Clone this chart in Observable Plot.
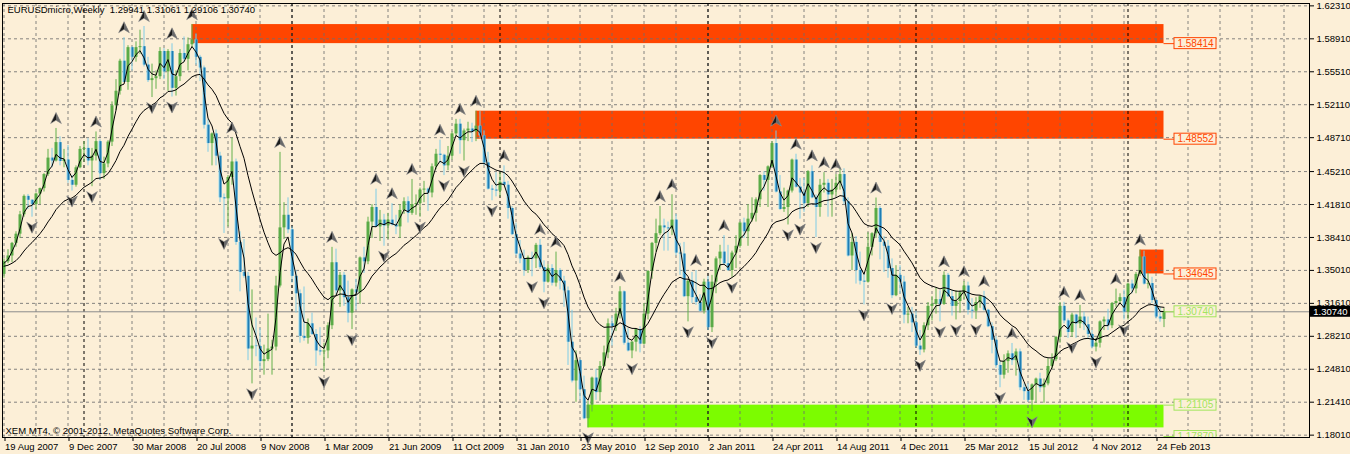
<!DOCTYPE html>
<html><head><meta charset="utf-8">
<script src="https://cdn.jsdelivr.net/npm/d3@7"></script>
<script src="https://cdn.jsdelivr.net/npm/@observablehq/plot@0.6"></script>
<style>
html,body{margin:0;padding:0;background:#FCEFD7;}
#chart{width:1350px;height:454px;overflow:hidden;}
</style></head><body><div id="chart"></div>
<script>
// ---- Weekly EURUSD bars, first bar = week of 19 Aug 2007 ----
const opens = [
1.3460,1.3590,1.3650,1.3780,1.3875,1.4075,1.4265,1.4225,1.4180,1.4290,
1.4345,1.4490,1.4660,1.4630,1.4820,1.4625,1.4640,1.4430,1.4380,1.4560,
1.4750,1.4760,1.4630,1.4680,1.4830,1.4500,1.4600,1.4825,1.5200,1.5350,
1.5660,1.5440,1.5800,1.5700,1.5800,1.5810,1.5620,1.5460,1.5480,1.5500,
1.5760,1.5550,1.5760,1.5380,1.5500,1.5740,1.5680,1.5830,1.5880,1.5700,
1.5590,1.5000,1.4810,1.4910,1.4680,1.4250,1.4240,1.4460,1.4620,1.3790,
1.3480,1.3440,1.2690,1.2720,1.2715,1.2560,1.2580,1.2690,1.2710,1.3340,
1.3940,1.4070,1.3920,1.3440,1.3260,1.2820,1.2800,1.2950,1.2840,1.2670,
1.2660,1.2670,1.2930,1.3580,1.3290,1.3450,1.3220,1.3060,1.3300,1.3270,
1.3630,1.3590,1.4000,1.4150,1.3950,1.4020,1.3960,1.4020,1.3970,1.3950,
1.4120,1.4210,1.4090,1.4180,1.4190,1.4330,1.4340,1.4300,1.4570,1.4700,
1.4690,1.4580,1.4680,1.4910,1.5010,1.4840,1.4940,1.4960,1.4930,1.4990,
1.4890,1.4610,1.4340,1.4330,1.4320,1.4410,1.4380,1.4140,1.3870,1.3670,
1.3620,1.3500,1.3630,1.3620,1.3760,1.3530,1.3380,1.3520,1.3370,1.3500,
1.3390,1.3290,1.2760,1.2360,1.2570,1.2270,1.1970,1.2110,1.2390,1.2240,
1.2510,1.2650,1.2950,1.2920,1.3050,1.3280,1.2750,1.2670,1.2760,1.2890,
1.2740,1.3050,1.3490,1.3780,1.3880,1.3960,1.3940,1.3930,1.4020,1.3680,
1.3670,1.3230,1.3390,1.3220,1.3170,1.3080,1.3380,1.2910,1.3380,1.3620,
1.3690,1.3570,1.3500,1.3680,1.3750,1.3990,1.3900,1.4030,1.4090,1.4230,
1.4480,1.4430,1.4570,1.4810,1.4310,1.4130,1.4150,1.4320,1.4640,1.4360,
1.4300,1.4190,1.4520,1.4250,1.4150,1.4380,1.4400,1.4280,1.4330,1.4400,
1.4490,1.4210,1.3650,1.3790,1.3500,1.3390,1.3380,1.3740,1.3880,1.4140,
1.3790,1.3750,1.3520,1.3240,1.3450,1.3380,1.3040,1.3050,1.2960,1.2720,
1.2680,1.2930,1.3130,1.3150,1.3200,1.3150,1.3450,1.3230,1.3130,1.3180,
1.3270,1.3340,1.3090,1.3080,1.3170,1.3230,1.3090,1.2920,1.2780,1.2520,
1.2420,1.2560,1.2640,1.2570,1.2660,1.2290,1.2250,1.2160,1.2320,1.2380,
1.2290,1.2330,1.2510,1.2580,1.2810,1.3130,1.2980,1.2860,1.3040,1.2950,
1.3020,1.2940,1.2840,1.2710,1.2750,1.2970,1.2990,1.2930,1.3160,1.3180,
1.3220,1.3070,1.3360,1.3310,1.3460,1.3640,1.3360,1.3365,1.3190,1.3020,
1.29941];
const highs = [
1.3620,1.3715,1.3790,1.3900,1.4110,1.4280,1.4285,1.4230,1.4300,1.4350,
1.4500,1.4750,1.4760,1.4966,1.4880,1.4750,1.4790,1.4480,1.4580,1.4780,
1.4830,1.4860,1.4760,1.4930,1.4850,1.4670,1.4840,1.5240,1.5470,1.5680,
1.5903,1.5820,1.5810,1.5860,1.5980,1.6018,1.5700,1.5630,1.5560,1.5800,
1.5790,1.5780,1.5840,1.5560,1.5780,1.5910,1.5900,1.6038,1.5940,1.5720,
1.5610,1.5060,1.4920,1.4950,1.4720,1.4290,1.4480,1.4867,1.4650,1.3900,
1.3820,1.3480,1.3300,1.3010,1.2900,1.2730,1.3050,1.2780,1.3440,1.4719,
1.4200,1.4250,1.3950,1.3500,1.3300,1.3330,1.3000,1.3060,1.2890,1.2910,
1.2750,1.2960,1.3739,1.3720,1.3480,1.3480,1.3390,1.3310,1.3410,1.3640,
1.3740,1.4050,1.4180,1.4339,1.4120,1.4080,1.4090,1.4190,1.4070,1.4180,
1.4250,1.4260,1.4440,1.4280,1.4350,1.4420,1.4350,1.4600,1.4750,1.4845,
1.4700,1.4780,1.4930,1.5060,1.5060,1.4960,1.5030,1.5020,1.5144,1.5140,
1.4940,1.4720,1.4380,1.4510,1.4510,1.4580,1.4420,1.4160,1.3990,1.3810,
1.3710,1.3650,1.3690,1.3780,1.3820,1.3600,1.3560,1.3560,1.3690,1.3520,
1.3440,1.3330,1.3090,1.2670,1.2580,1.2410,1.2150,1.2400,1.2480,1.2560,
1.2720,1.3000,1.3020,1.3110,1.3333,1.3290,1.2900,1.2770,1.2900,1.2920,
1.3160,1.3500,1.3790,1.4030,1.4160,1.4030,1.4000,1.4282,1.4080,1.3780,
1.3790,1.3400,1.3480,1.3500,1.3250,1.3410,1.3440,1.3450,1.3640,1.3760,
1.3860,1.3760,1.3700,1.3860,1.4000,1.4040,1.4180,1.4250,1.4250,1.4490,
1.4520,1.4580,1.4830,1.4940,1.4480,1.4350,1.4330,1.4650,1.4700,1.4450,
1.4450,1.4530,1.4580,1.4280,1.4440,1.4510,1.4440,1.4440,1.4490,1.4550,
1.4550,1.4250,1.3880,1.3850,1.3690,1.3460,1.3890,1.3890,1.4248,1.4160,
1.3850,1.3810,1.3620,1.3550,1.3550,1.3440,1.3120,1.3120,1.3080,1.2880,
1.2960,1.3170,1.3230,1.3320,1.3290,1.3486,1.3470,1.3290,1.3290,1.3290,
1.3385,1.3380,1.3210,1.3220,1.3240,1.3285,1.3100,1.2960,1.2820,1.2560,
1.2630,1.2670,1.2747,1.2690,1.2690,1.2330,1.2330,1.2330,1.2390,1.2440,
1.2380,1.2590,1.2640,1.2820,1.3170,1.3172,1.3000,1.3060,1.3050,1.3140,
1.3070,1.3020,1.2880,1.2800,1.2980,1.3020,1.3100,1.3170,1.3308,1.3260,
1.3300,1.3370,1.3400,1.3480,1.3711,1.3700,1.3470,1.3430,1.3200,1.3120,
1.31061];
const lows = [
1.3420,1.3570,1.3580,1.3740,1.3830,1.4050,1.4130,1.4050,1.4130,1.4180,
1.4310,1.4470,1.4560,1.4620,1.4580,1.4560,1.4400,1.4320,1.4360,1.4550,
1.4620,1.4580,1.4365,1.4630,1.4430,1.4440,1.4560,1.4780,1.5150,1.5310,
1.5480,1.5360,1.5560,1.5650,1.5730,1.5600,1.5440,1.5285,1.5370,1.5470,
1.5470,1.5350,1.5290,1.5300,1.5450,1.5650,1.5560,1.5800,1.5620,1.5450,
1.4960,1.4720,1.4580,1.4580,1.4200,1.3882,1.3950,1.4380,1.3760,1.3280,
1.3420,1.2570,1.2330,1.2610,1.2470,1.2420,1.2560,1.2420,1.2670,1.3320,
1.3820,1.3880,1.3370,1.3060,1.2750,1.2770,1.2740,1.2830,1.2510,1.2620,
1.2455,1.2590,1.2890,1.3250,1.3120,1.3130,1.2960,1.2890,1.3090,1.3150,
1.3470,1.3560,1.3830,1.3940,1.3800,1.3750,1.3820,1.3960,1.3870,1.3830,
1.4080,1.3990,1.4070,1.4070,1.4050,1.4200,1.4110,1.4250,1.4540,1.4600,
1.4480,1.4530,1.4640,1.4880,1.4700,1.4630,1.4830,1.4820,1.4830,1.4860,
1.4580,1.4330,1.4220,1.4260,1.4260,1.4370,1.4030,1.3860,1.3650,1.3570,
1.3440,1.3470,1.3435,1.3520,1.3510,1.3270,1.3370,1.3340,1.3330,1.3300,
1.3120,1.2520,1.2340,1.2140,1.2160,1.1960,1.1876,1.2040,1.2160,1.2150,
1.2500,1.2590,1.2720,1.2870,1.3000,1.2730,1.2660,1.2590,1.2660,1.2650,
1.2730,1.2990,1.3410,1.3690,1.3860,1.3700,1.3700,1.3860,1.3650,1.3450,
1.3220,1.2970,1.3160,1.3140,1.3070,1.3050,1.2880,1.2860,1.3260,1.3500,
1.3560,1.3490,1.3430,1.3520,1.3730,1.3830,1.3750,1.4000,1.4000,1.4150,
1.4320,1.4150,1.4560,1.4300,1.4120,1.4100,1.3970,1.4300,1.4350,1.4030,
1.4100,1.4150,1.4240,1.3840,1.4050,1.4300,1.4050,1.4050,1.4270,1.4330,
1.4180,1.3640,1.3500,1.3360,1.3350,1.3145,1.3370,1.3650,1.3830,1.3610,
1.3480,1.3420,1.3210,1.3230,1.3260,1.2950,1.2950,1.2860,1.2700,1.2624,
1.2650,1.2880,1.2980,1.3050,1.2970,1.3140,1.3220,1.3030,1.2990,1.3060,
1.3200,1.3040,1.3000,1.2995,1.3110,1.3080,1.2910,1.2640,1.2490,1.2290,
1.2380,1.2440,1.2520,1.2410,1.2260,1.2160,1.2140,1.2042,1.2130,1.2240,
1.2130,1.2310,1.2480,1.2560,1.2750,1.2950,1.2800,1.2810,1.2800,1.2900,
1.2880,1.2800,1.2690,1.2660,1.2700,1.2880,1.2880,1.2900,1.3120,1.3160,
1.2990,1.2990,1.3260,1.3260,1.3440,1.3350,1.3310,1.3160,1.3000,1.2966,
1.29106];
const closes = [
1.3590,1.3650,1.3780,1.3875,1.4075,1.4265,1.4225,1.4180,1.4290,1.4345,
1.4490,1.4660,1.4630,1.4820,1.4625,1.4640,1.4430,1.4380,1.4560,1.4750,
1.4760,1.4630,1.4680,1.4830,1.4500,1.4600,1.4825,1.5200,1.5350,1.5660,
1.5440,1.5800,1.5700,1.5800,1.5810,1.5620,1.5460,1.5480,1.5500,1.5760,
1.5550,1.5760,1.5380,1.5500,1.5740,1.5680,1.5830,1.5880,1.5700,1.5590,
1.5000,1.4810,1.4910,1.4680,1.4250,1.4240,1.4460,1.4620,1.3790,1.3480,
1.3440,1.2690,1.2720,1.2715,1.2560,1.2580,1.2690,1.2710,1.3340,1.3940,
1.4070,1.3920,1.3440,1.3260,1.2820,1.2800,1.2950,1.2840,1.2670,1.2660,
1.2670,1.2930,1.3580,1.3290,1.3450,1.3220,1.3060,1.3300,1.3270,1.3630,
1.3590,1.4000,1.4150,1.3950,1.4020,1.3960,1.4020,1.3970,1.3950,1.4120,
1.4210,1.4090,1.4180,1.4190,1.4330,1.4340,1.4300,1.4570,1.4700,1.4690,
1.4580,1.4680,1.4910,1.5010,1.4840,1.4940,1.4960,1.4930,1.4990,1.4890,
1.4610,1.4340,1.4330,1.4320,1.4410,1.4380,1.4140,1.3870,1.3670,1.3620,
1.3500,1.3630,1.3620,1.3760,1.3530,1.3380,1.3520,1.3370,1.3500,1.3390,
1.3290,1.2760,1.2360,1.2570,1.2270,1.1970,1.2110,1.2390,1.2240,1.2510,
1.2650,1.2950,1.2920,1.3050,1.3280,1.2750,1.2670,1.2760,1.2890,1.2740,
1.3050,1.3490,1.3780,1.3880,1.3960,1.3940,1.3930,1.4020,1.3680,1.3670,
1.3230,1.3390,1.3220,1.3170,1.3080,1.3380,1.2910,1.3380,1.3620,1.3690,
1.3570,1.3500,1.3680,1.3750,1.3990,1.3900,1.4030,1.4090,1.4230,1.4480,
1.4430,1.4570,1.4810,1.4310,1.4130,1.4150,1.4320,1.4640,1.4360,1.4300,
1.4190,1.4520,1.4250,1.4150,1.4380,1.4400,1.4280,1.4330,1.4400,1.4490,
1.4210,1.3650,1.3790,1.3500,1.3390,1.3380,1.3740,1.3880,1.4140,1.3790,
1.3750,1.3520,1.3240,1.3450,1.3380,1.3040,1.3050,1.2960,1.2720,1.2680,
1.2930,1.3130,1.3150,1.3200,1.3150,1.3450,1.3230,1.3130,1.3180,1.3270,
1.3340,1.3090,1.3080,1.3170,1.3230,1.3090,1.2920,1.2780,1.2520,1.2420,
1.2560,1.2640,1.2570,1.2660,1.2290,1.2250,1.2160,1.2320,1.2380,1.2290,
1.2330,1.2510,1.2580,1.2810,1.3130,1.2980,1.2860,1.3040,1.2950,1.3020,
1.2940,1.2840,1.2710,1.2750,1.2970,1.2990,1.2930,1.3160,1.3180,1.3220,
1.3070,1.3360,1.3310,1.3460,1.3640,1.3360,1.3365,1.3190,1.3020,1.3000,
1.30740];

// Fractal arrows (bar indexes)
const fractalUp = [13,23,30,35,42,47,57,69,82,93,97,102,109,114,118,125,134,138,154,164,167,173,180,193,198,202,205,208,218,235,240,245,252,265,269,278,284];
const fractalDown = [7,17,22,37,42,55,62,80,87,95,104,110,115,122,132,135,146,157,171,177,182,196,199,203,215,222,229,234,238,243,249,257,267,273,280];

// Moving averages (EMA on close): periods and starting values read at the first bar
const maFastPeriod = 3, maSlowPeriod = 21;
const maFastSeed = 1.3560, maSlowSeed = 1.3540;

// Supply / demand zones
const zoneStart = [47, 118, 284, 146];
const zoneTop = [1.6038, 1.5144, 1.3711, 1.21105];
const zoneBottom = [1.58414, 1.48552, 1.34645, 1.1876];
const zoneKind = ["sell", "sell", "sell", "buy"];

// Right-side price labels
const labelPrices = [1.58414, 1.48552, 1.34645, 1.30740, 1.21105, 1.17870];
const labelKind = ["sell", "sell", "sell", "buy", "buy", "buy"];

// Axes
const yTicks = [1.18010,1.21410,1.24810,1.28210,1.31610,1.35010,1.38410,1.41810,1.45210,1.48710,1.52110,1.55510,1.58910,1.62310];
const dateTicks = [0,16,32,48,64,80,96,112,128,144,160,176,192,208,224,240,256,272,288];
const dateLabels = ["19 Aug 2007","9 Dec 2007","30 Mar 2008","20 Jul 2008","9 Nov 2008","1 Mar 2009","21 Jun 2009","11 Oct 2009","31 Jan 2010","23 May 2010","12 Sep 2010","2 Jan 2011","24 Apr 2011","14 Aug 2011","4 Dec 2011","25 Mar 2012","15 Jul 2012","4 Nov 2012","24 Feb 2013"];
const yearStartBars = [20, 72, 124, 176, 228, 281];

const titleText = "EURUSDmicro,Weekly\u00a0\u00a01.29941 1.31061 1.29106 1.30740";
const footerText = "XEM MT4, \u00a9 2001-2012, MetaQuotes Software Corp.";

// ---------------- drawing ----------------
const bg = "#FCEFD7";
const font = "Liberation Sans, Arial, sans-serif";
const sellColor = "#FF4500", buyZone = "#7CFC00", buyText = "#A2E55E";
const n = closes.length, last = n - 1;

function ema(values, period, seed) {
  const a = 2 / (period + 1);
  let prev = seed;
  return values.map(v => (prev = prev + a * (v - prev)));
}
const fast = ema(closes, maFastPeriod, maFastSeed);
const slow = ema(closes, maSlowPeriod, maSlowSeed);

const bars = closes.map((c, i) => ({i, o: opens[i], h: highs[i], l: lows[i], c, fast: fast[i], slow: slow[i]}));
const bull = bars.filter(d => d.c >= d.o);
const bear = bars.filter(d => d.c < d.o);

const zones = zoneStart.map((s, k) => ({s, top: zoneTop[k], bottom: zoneBottom[k], kind: zoneKind[k]}));
const labels = labelPrices.map((p, k) => ({p, kind: labelKind[k], text: p.toFixed(5)}));

const pxPerUnit = 969;
const boxX1 = 292.625, boxX2 = 303.125, boxXc = 297.875;
const axisBoxX1 = 326.6, axisBoxX2 = 337, axisBoxXc = 331.6;
const half = 5.5 / pxPerUnit;

function arrow(dir) {
  return {draw(ctx, size) {
    const r = Math.sqrt(size / Math.PI);
    ctx.moveTo(0, -dir * r);
    ctx.lineTo(0.9 * r, dir * 0.85 * r);
    ctx.lineTo(0, dir * 0.3 * r);
    ctx.lineTo(-0.9 * r, dir * 0.85 * r);
    ctx.closePath();
  }};
}
function halfArrow(dir) {
  return {draw(ctx, size) {
    const r = Math.sqrt(size / Math.PI);
    ctx.moveTo(0, -dir * r);
    ctx.lineTo(0.9 * r, dir * 0.85 * r);
    ctx.lineTo(0, dir * 0.3 * r);
    ctx.closePath();
  }};
}

const chart = Plot.plot({
  width: 1350, height: 454,
  marginLeft: 2, marginRight: 41, marginTop: 3, marginBottom: 17,
  style: {background: bg, fontFamily: font, fontSize: "9.5px", color: "#000", overflow: "visible"},
  x: {domain: [-0.375, 326.375], axis: null},
  y: {domain: [1.17767, 1.62555], axis: null},
  marks: [
    Plot.rect(zones, {x1: "s", x2: last, y1: "bottom", y2: "top", fill: d => d.kind === "sell" ? sellColor : buyZone}),
    Plot.ruleY(yTicks, {stroke: "#707070", strokeOpacity: 0.85, strokeDasharray: "3,3"}),
    Plot.ruleX(d3.range(0, 321, 8), {stroke: "#707070", strokeOpacity: 0.85, strokeDasharray: "3,3"}),
    Plot.ruleX(yearStartBars, {stroke: "#000", strokeDasharray: "3,3"}),
    Plot.ruleY([closes[last]], {stroke: "#8c8c8c"}),
    Plot.ruleX(bull, {x: "i", y1: "l", y2: "h", stroke: "#62B04A"}),
    Plot.ruleX(bear, {x: "i", y1: "l", y2: "h", stroke: "#7FCCE6"}),
    Plot.ruleX(bull, {x: "i", y1: "o", y2: "c", stroke: "#5AAB47", strokeWidth: 3}),
    Plot.ruleX(bear, {x: "i", y1: "o", y2: "c", stroke: "#9ADCF0", strokeWidth: 3}),
    Plot.ruleX(bear, {x: "i", y1: "o", y2: "c", stroke: "#1E7DB4", strokeWidth: 2, dx: 0.5}),
    Plot.line(bars, {x: "i", y: "slow", stroke: "#000", strokeWidth: 1}),
    Plot.line(bars, {x: "i", y: "fast", stroke: "#000", strokeWidth: 1}),
    Plot.dot(fractalUp, {x: d => d, y: d => highs[d], dy: -10, r: 6, symbol: arrow(1), fill: "#1c1c1c", stroke: "#9a9a9a", strokeWidth: 0.6}),
    Plot.dot(fractalUp, {x: d => d, y: d => highs[d], dy: -10, r: 6, symbol: halfArrow(1), fill: "#8a8a8a", fillOpacity: 0.7, stroke: "none"}),
    Plot.dot(fractalDown, {x: d => d, y: d => lows[d], dy: 10, r: 6, symbol: arrow(-1), fill: "#1c1c1c", stroke: "#9a9a9a", strokeWidth: 0.6}),
    Plot.dot(fractalDown, {x: d => d, y: d => lows[d], dy: 10, r: 6, symbol: halfArrow(-1), fill: "#8a8a8a", fillOpacity: 0.7, stroke: "none"}),
    Plot.ruleY(labels, {y: "p", x1: last, x2: boxX1, stroke: d => d.kind === "sell" ? sellColor : buyText, clip: true}),
    Plot.rect(labels, {x1: boxX1, x2: boxX2, y1: d => d.p - half, y2: d => d.p + half, fill: bg, stroke: d => d.kind === "sell" ? sellColor : buyText, clip: true}),
    Plot.text(labels, {x: boxXc, y: "p", text: "text", fill: d => d.kind === "sell" ? sellColor : buyText, fontSize: 10, clip: true}),
    Plot.frame({stroke: "#000"}),
    Plot.axisY(yTicks, {anchor: "right", tickSize: 4, tickPadding: 3, tickFormat: d => d.toFixed(5), label: null, fontSize: 9.5}),
    Plot.axisX(dateTicks, {anchor: "bottom", tickSize: 4, tickPadding: 2, textAnchor: "start", dx: 1, tickFormat: d => dateLabels[dateTicks.indexOf(d)], label: null, fontSize: 9.5}),
    Plot.rect([closes[last]], {x1: axisBoxX1, x2: axisBoxX2, y1: d => d - half, y2: d => d + half, fill: "#000"}),
    Plot.text([closes[last]], {x: axisBoxXc, y: d => d, text: d => d.toFixed(5), fill: "#fff", fontSize: 9.5}),
    Plot.text([titleText], {frameAnchor: "top-left", dx: 5, dy: 3, textAnchor: "start", lineAnchor: "top", fill: "#000", fontSize: 9.5}),
    Plot.text([footerText], {frameAnchor: "bottom-left", dx: 3, dy: -4, textAnchor: "start", lineAnchor: "bottom", fill: "#000", fontSize: 9.5})
  ]
});
document.getElementById("chart").appendChild(chart);
</script>
</body></html>
